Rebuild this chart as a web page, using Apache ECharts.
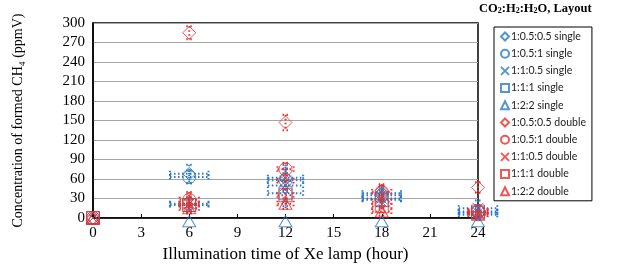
<!DOCTYPE html>
<html><head><meta charset="utf-8">
<script src="https://cdn.jsdelivr.net/npm/echarts@6/dist/echarts.min.js"></script>
<style>html,body{margin:0;padding:0;background:#fff}#c{width:641px;height:273px}</style>
</head><body><div id="c"></div>
<script>
// ---- data ----
var hours = [0, 6, 12, 18, 24];
var xTicks = [0, 3, 6, 9, 12, 15, 18, 21, 24];
var seriesNames = ['1:0.5:0.5 single','1:0.5:1 single','1:1:0.5 single','1:1:1 single','1:2:2 single',
                   '1:0.5:0.5 double','1:0.5:1 double','1:1:0.5 double','1:1:1 double','1:2:2 double'];
var s_055_05 = [0, 68, 62, 38, 5];
var s_05_1   = [0, 63, 58, 35, 10];
var s_1_05   = [0, 22, 50, 30, 15];
var s_1_1    = [0, 20, 38, 28, 8];
var s_2_2    = [0, -5, -5, -5, -5];
var d_055_05 = [0, 285, 147, 42, 47];
var d_05_1   = [0, 28, 75, 40, 10];
var d_1_05   = [0, 22, 57, 25, 8];
var d_1_1    = [0, 20, 35, 18, 10];
var d_2_2    = [0, 15, 22, 10, 5];
// error estimates (ppmV) and time spread (hour)
var e_s_055_05 = [0, 14, 20, 10, 8];
var e_s_05_1   = [0, 10, 18, 10, 10];
var e_s_1_05   = [0, 10, 25, 12, 12];
var e_s_1_1    = [0, 8, 20, 10, 10];
var e_s_2_2    = [0, 0, 0, 0, 0];
var e_d_055_05 = [0, 10, 12, 8, 8];
var e_d_05_1   = [0, 12, 10, 12, 8];
var e_d_1_05   = [0, 14, 12, 12, 10];
var e_d_1_1    = [0, 12, 10, 10, 8];
var e_d_2_2    = [0, 8, 8, 6, 6];
var xs_single = [0, 1.2, 1.1, 1.2, 1.2];
var xs_double = [0, 0.6, 0.5, 0.6, 0.6];
var xs_none   = [0, 0, 0, 0, 0];

var values = [s_055_05, s_05_1, s_1_05, s_1_1, s_2_2, d_055_05, d_05_1, d_1_05, d_1_1, d_2_2];
var errors = [e_s_055_05, e_s_05_1, e_s_1_05, e_s_1_1, e_s_2_2, e_d_055_05, e_d_05_1, e_d_1_05, e_d_1_1, e_d_2_2];
var spreads = [xs_single, xs_single, xs_single, xs_single, xs_none, xs_none, xs_double, xs_double, xs_double, xs_double];

var BLUE = '#2a7ac4', RED = '#e8302c';
var DIAM = 'path://M5,0L10,5L5,10L0,5Z';
var XS = 'path://M0,0L10,10M0,10L10,0';
var symbols = [DIAM, 'circle', XS, 'rect', 'triangle', DIAM, 'circle', XS, 'rect', 'triangle'];
var sizes = [[13,13],13,[11,11],[13,13],[13,11],[13,13],13,[11,11],[13,13],[13,11]];

var series = [];
values.forEach(function (vals, i) {
  var col = i < 5 ? BLUE : RED;
  var errs = errors[i], spr = spreads[i];
  series.push({
    type: 'custom', silent: true, z: 2, clip: false,
    data: hours.map(function (h, k) { return [h, vals[k], errs[k], spr[k]]; }),
    renderItem: function (params, api) {
      var x = api.value(0), y = api.value(1), e = api.value(2), dx = api.value(3);
      if (!e && !dx) return null;
      var c = api.coord([x, y]);
      var top = api.coord([x, y + e]), bot = api.coord([x, y - e]);
      var l = api.coord([x - dx, y]), r = api.coord([x + dx, y]);
      var st = { stroke: col, lineWidth: 2, lineDash: [1.5, 2.5], fill: null };
      var cap = 3, children = [];
      if (e) {
        children.push({ type: 'line', shape: { x1: c[0], y1: top[1], x2: c[0], y2: bot[1] }, style: st });
        children.push({ type: 'line', shape: { x1: c[0]-cap, y1: top[1], x2: c[0]+cap, y2: top[1] }, style: st });
        children.push({ type: 'line', shape: { x1: c[0]-cap, y1: bot[1], x2: c[0]+cap, y2: bot[1] }, style: st });
      }
      if (dx) {
        children.push({ type: 'line', shape: { x1: l[0], y1: c[1], x2: r[0], y2: c[1] }, style: st });
        children.push({ type: 'line', shape: { x1: l[0], y1: c[1]-cap, x2: l[0], y2: c[1]+cap }, style: st });
        children.push({ type: 'line', shape: { x1: r[0], y1: c[1]-cap, x2: r[0], y2: c[1]+cap }, style: st });
      }
      return { type: 'group', children: children };
    }
  });
});
values.forEach(function (vals, i) {
  var col = i < 5 ? BLUE : RED;
  series.push({
    name: seriesNames[i], type: 'scatter', z: 3, clip: false,
    symbol: symbols[i], symbolSize: sizes[i],
    itemStyle: { color: 'rgba(255,255,255,0)', borderColor: col, borderWidth: 1 },
    data: hours.map(function (h, k) { return [h, vals[k]]; })
  });
});

var serif = 'Liberation Serif';
var chart = echarts.init(document.getElementById('c'), null, { renderer: 'canvas' });
chart.setOption({
  animation: false,
  backgroundColor: '#fff',
  grid: { left: 93, right: 163, top: 23, bottom: 55, show: true, borderColor: '#000', borderWidth: 1.5, backgroundColor: 'transparent' },
  xAxis: {
    type: 'value', min: 0, max: 24, interval: 3,
    name: 'Illumination time of Xe lamp (hour)', nameLocation: 'middle', nameGap: 27,
    nameTextStyle: { fontFamily: serif, fontSize: 17, color: '#000' },
    axisLine: { lineStyle: { color: '#000', width: 1.5 } },
    axisTick: { inside: true, length: 4, lineStyle: { color: '#000' } },
    axisLabel: { fontFamily: serif, fontSize: 15, color: '#000', margin: 8,
      formatter: function (v) { return xTicks.indexOf(v) >= 0 ? String(v) : ''; } },
    splitLine: { show: false }
  },
  yAxis: {
    type: 'value', min: 0, max: 300, interval: 30,
    name: 'Concentration of formed CH\u2084 (ppmV)', nameLocation: 'middle', nameGap: 68,
    nameTextStyle: { fontFamily: serif, fontSize: 14, color: '#000' },
    axisLine: { show: true, lineStyle: { color: '#000', width: 1.5 } },
    axisTick: { show: false },
    axisLabel: { fontFamily: serif, fontSize: 15, color: '#000', margin: 8 },
    splitLine: { lineStyle: { color: '#a6a6a6', width: 1.2 } }
  },
  legend: {
    orient: 'vertical', left: 494, top: 27, width: 92,
    padding: [4, 6, 4, 6], borderColor: '#000', borderWidth: 1,
    itemWidth: 8, itemHeight: 8, itemGap: 6.2,
    textStyle: { fontFamily: 'Lato', fontSize: 10.5, color: '#222', padding: [0, 0, 0, -3] },
    data: seriesNames
  },
  graphic: [{
    type: 'text', left: 479, top: 2,
    style: {
      text: '{b|CO}{s|2}{b|:H}{s|2}{b|:H}{s|2}{b|O, Layout}',
      rich: {
        b: { fontFamily: serif, fontWeight: 'bold', fontSize: 12.5, fill: '#000' },
        s: { fontFamily: serif, fontWeight: 'bold', fontSize: 8, fill: '#000', padding: [5,0,0,0] }
      }
    }
  }],
  series: series
});
</script></body></html>
